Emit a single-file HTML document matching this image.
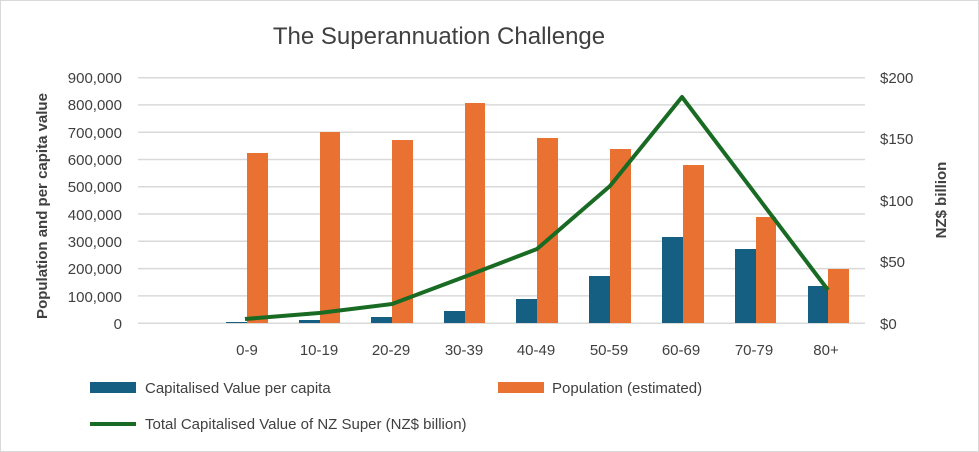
<!DOCTYPE html>
<html><head><style>
body{margin:0;background:#fff;}
svg{display:block;font-family:"Liberation Sans",sans-serif;}
</style></head><body>
<svg width="979" height="452" viewBox="0 0 979 452">
<rect x="0.5" y="0.5" width="978" height="451" fill="#fff" stroke="#d9d9d9"/>
<text x="439" y="44" font-size="24" fill="#404040" text-anchor="middle">The Superannuation Challenge</text>
<g stroke="#d9d9d9" stroke-width="1.5">
<line x1="138" x2="865" y1="77.7" y2="77.7"/><line x1="138" x2="865" y1="104.9" y2="104.9"/>
<line x1="138" x2="865" y1="132.2" y2="132.2"/><line x1="138" x2="865" y1="159.5" y2="159.5"/>
<line x1="138" x2="865" y1="186.8" y2="186.8"/><line x1="138" x2="865" y1="214" y2="214"/>
<line x1="138" x2="865" y1="241.3" y2="241.3"/><line x1="138" x2="865" y1="268.6" y2="268.6"/>
<line x1="138" x2="865" y1="295.9" y2="295.9"/><line x1="138" x2="865" y1="323.2" y2="323.2"/>
</g>
<g font-size="15" fill="#404040" text-anchor="end">
<text x="122" y="83">900,000</text><text x="122" y="110">800,000</text><text x="122" y="138">700,000</text>
<text x="122" y="165">600,000</text><text x="122" y="192">500,000</text><text x="122" y="220">400,000</text>
<text x="122" y="247">300,000</text><text x="122" y="274">200,000</text><text x="122" y="302">100,000</text>
<text x="122" y="329">0</text>
</g>
<g font-size="15" fill="#404040" text-anchor="start">
<text x="880" y="83">$200</text><text x="880" y="144">$150</text><text x="880" y="206">$100</text>
<text x="880" y="267">$50</text><text x="880" y="329">$0</text>
</g>
<text transform="translate(47,206) rotate(-90)" font-size="15" font-weight="bold" fill="#404040" text-anchor="middle">Population and per capita value</text>
<text transform="translate(946,200) rotate(-90)" font-size="15" font-weight="bold" fill="#404040" text-anchor="middle">NZ$ billion</text>
<g font-size="15" fill="#404040" text-anchor="middle">
<text x="247" y="355">0-9</text><text x="319" y="355">10-19</text><text x="391" y="355">20-29</text>
<text x="464" y="355">30-39</text><text x="536" y="355">40-49</text><text x="609" y="355">50-59</text>
<text x="681" y="355">60-69</text><text x="754" y="355">70-79</text><text x="826" y="355">80+</text>
</g>
<g fill="#156082">
<rect x="226" y="322" width="21" height="1"/>
<rect x="299" y="320" width="21" height="3"/>
<rect x="371" y="317" width="21" height="6"/>
<rect x="444" y="311" width="21" height="12"/>
<rect x="516" y="299" width="21" height="24"/>
<rect x="589" y="276" width="21" height="47"/>
<rect x="662" y="237" width="21" height="86"/>
<rect x="735" y="249" width="21" height="74"/>
<rect x="808" y="286" width="20" height="37"/>
</g>
<g fill="#e97132">
<rect x="247" y="153" width="21" height="170"/>
<rect x="320" y="132" width="20" height="191"/>
<rect x="392" y="140" width="21" height="183"/>
<rect x="465" y="103" width="20" height="220"/>
<rect x="537" y="138" width="21" height="185"/>
<rect x="610" y="149" width="21" height="174"/>
<rect x="683" y="165" width="21" height="158"/>
<rect x="756" y="217" width="20" height="106"/>
<rect x="828" y="269" width="21" height="54"/>
</g>
<polyline fill="none" stroke="#196b24" stroke-width="4" stroke-linejoin="round" points="245,319 319,313 392,304 464,277 537,249 610,186 682,97 828,290"/>
<rect x="90" y="382" width="46" height="11" fill="#156082"/>
<text x="145" y="393" font-size="15" fill="#404040">Capitalised Value per capita</text>
<rect x="498" y="382" width="46" height="11" fill="#e97132"/>
<text x="552" y="393" font-size="15" fill="#404040">Population (estimated)</text>
<line x1="90" y1="424" x2="136" y2="424" stroke="#196b24" stroke-width="4"/>
<text x="145" y="429" font-size="15" fill="#404040">Total Capitalised Value of NZ Super (NZ$ billion)</text>
</svg>
</body></html>
